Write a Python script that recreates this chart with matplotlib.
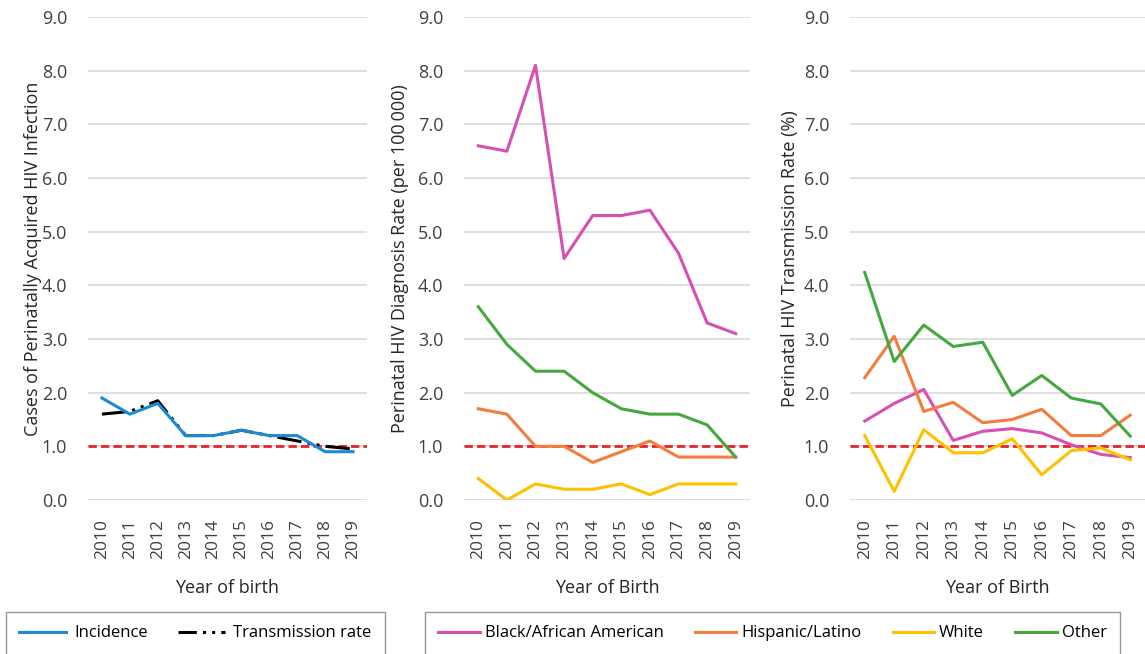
import numpy as np
import matplotlib.pyplot as plt
from matplotlib.lines import Line2D

plt.rcParams['font.family'] = ['Open Sans', 'DejaVu Sans']

years = ['2010', '2011', '2012', '2013', '2014', '2015', '2016', '2017', '2018', '2019']

# panel 1
incidence = [1.9, 1.6, 1.8, 1.2, 1.2, 1.3, 1.2, 1.2, 0.9, 0.9]
transmission = [1.6, 1.65, 1.85, 1.2, 1.2, 1.3, 1.2, 1.1, 1.0, 0.95]

# panel 2 - diagnosis rate per 100 000
diag_black = [6.6, 6.5, 8.1, 4.5, 5.3, 5.3, 5.4, 4.6, 3.3, 3.1]
diag_hisp = [1.7, 1.6, 1.0, 1.0, 0.7, 0.9, 1.1, 0.8, 0.8, 0.8]
diag_white = [0.4, 0.0, 0.3, 0.2, 0.2, 0.3, 0.1, 0.3, 0.3, 0.3]
diag_other = [3.6, 2.9, 2.4, 2.4, 2.0, 1.7, 1.6, 1.6, 1.4, 0.8]

# panel 3 - transmission rate (%)
tr_black = [1.47, 1.8, 2.06, 1.11, 1.28, 1.33, 1.25, 1.03, 0.85, 0.79]
tr_hisp = [2.28, 3.05, 1.65, 1.82, 1.44, 1.5, 1.69, 1.2, 1.2, 1.58]
tr_white = [1.2, 0.16, 1.31, 0.88, 0.88, 1.14, 0.47, 0.92, 0.97, 0.75]
tr_other = [4.24, 2.58, 3.26, 2.86, 2.94, 1.95, 2.32, 1.9, 1.79, 1.19]

groups = ['Black/African American', 'Hispanic/Latino', 'White', 'Other']
colors = ['#D84FB3', '#F47C3C', '#FFC000', '#45A83F']

fig = plt.figure(figsize=(11.45, 6.54), dpi=100)

W, H = 1145, 654
def make_ax(x0, x1):
    return fig.add_axes([x0 / W, 1 - 500 / H, (x1 - x0) / W, (500 - 17) / H])

ax1 = make_ax(88, 367)
ax2 = make_ax(464, 750)
ax3 = make_ax(850, 1145)

x = np.arange(len(years))

def style(ax, ylabel, xlabel, ylpad):
    ax.set_ylim(0, 9)
    ax.set_xlim(-0.5, 9.5)
    ax.set_yticks(np.arange(0, 10, 1))
    ax.set_yticklabels([f'{v:.1f}' for v in range(10)], fontsize=13, color='#404040')
    ax.set_xticks(x)
    ax.set_xticklabels(years, rotation=90, fontsize=12.5, color='#404040')
    ax.grid(axis='y', color='#D9D9D9', linewidth=1.2)
    ax.set_axisbelow(True)
    for s in ax.spines.values():
        s.set_visible(False)
    ax.tick_params(axis='y', length=0, pad=15)
    ax.tick_params(axis='x', length=0, pad=14)
    ax.set_ylabel(ylabel, fontsize=13, color='#262626', labelpad=ylpad)
    ax.set_xlabel(xlabel, fontsize=13, color='#262626', labelpad=14)
    ax.axhline(1.0, color='#E8222A', linestyle=(0, (3, 1.5)), linewidth=2, zorder=1)

style(ax1, 'Cases of Perinatally Acquired HIV Infection', 'Year of birth', 0)
style(ax2, 'Perinatal HIV Diagnosis Rate (per 100\u2009000)', 'Year of Birth', 6)
style(ax3, 'Perinatal HIV Transmission Rate (%)', 'Year of Birth', 3)

ax1.plot(x, transmission, color='black', linewidth=2.2, linestyle=(0, (8, 2, 1, 2, 1, 2)), zorder=3)
ax1.plot(x, incidence, color='#1C8AD3', linewidth=2.2, zorder=4)

for vals, c in zip([diag_black, diag_hisp, diag_white, diag_other], colors):
    ax2.plot(x, vals, color=c, linewidth=2.2, zorder=3)
for vals, c in zip([tr_black, tr_hisp, tr_white, tr_other], colors):
    ax3.plot(x, vals, color=c, linewidth=2.2, zorder=3)

# legends (cut off at the bottom edge like the original)
top = 1 - 612 / H
h1 = [Line2D([], [], color='#1C8AD3', linewidth=2.2),
      Line2D([], [], color='black', linewidth=2.2, linestyle=(0, (6, 2, 1, 2, 1, 2)))]
leg1 = fig.legend(h1, ['Incidence', 'Transmission rate'], loc='upper left',
                  bbox_to_anchor=(6 / W, top - 0.05, 379 / W, 0.05), mode='expand',
                  ncol=2, fontsize=12, frameon=True, fancybox=False,
                  edgecolor='#7F7F7F', borderpad=0.8, borderaxespad=0,
                  handlelength=2.8, handletextpad=0.5)
leg1.get_frame().set_linewidth(1.0)

h2 = [Line2D([], [], color=c, linewidth=2.2) for c in colors]
leg2 = fig.legend(h2, groups, loc='upper left',
                  bbox_to_anchor=(425 / W, top - 0.05, 695 / W, 0.05), mode='expand',
                  ncol=4, fontsize=12, frameon=True, fancybox=False,
                  edgecolor='#7F7F7F', borderpad=0.8, borderaxespad=0,
                  handlelength=2.5, handletextpad=0.3)
leg2.get_frame().set_linewidth(1.0)

fig.savefig('out.png', dpi=100)
